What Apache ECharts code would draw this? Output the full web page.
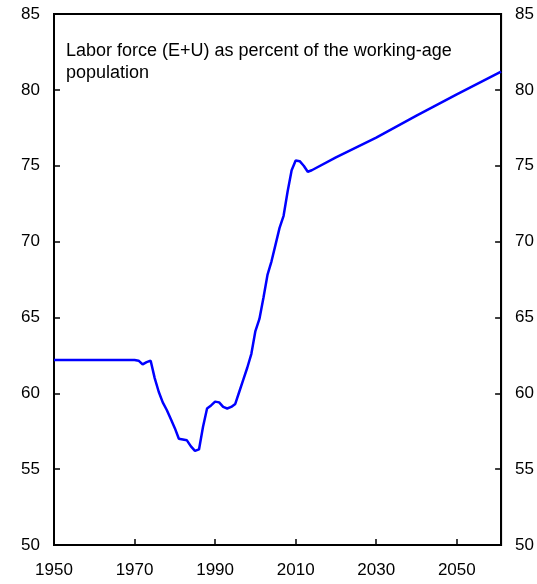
<!DOCTYPE html>
<html>
<head>
<meta charset="utf-8">
<script src="https://cdn.jsdelivr.net/npm/echarts@6/dist/echarts.min.js"></script>
<style>
  html, body { margin: 0; padding: 0; background: #fff; }
  #chart { width: 537px; height: 584px; }
</style>
</head>
<body>
<div id="chart"></div>
<script>
// Labor force participation: history and projection
const years = [
  1950, 1955, 1960, 1965, 1970, 1971, 1972, 1973, 1974, 1975,
  1976, 1977, 1978, 1979, 1980, 1981, 1982, 1983, 1984, 1985,
  1986, 1987, 1988, 1989, 1990, 1991, 1992, 1993, 1994, 1995,
  1996, 1997, 1998, 1999, 2000, 2001, 2002, 2003, 2004, 2005,
  2006, 2007, 2008, 2009, 2010, 2011, 2012, 2013, 2014, 2020,
  2030, 2040, 2050, 2061
];
const laborForcePct = [
  62.2, 62.2, 62.2, 62.2, 62.2, 62.15, 61.9, 62.05, 62.15, 61.0,
  60.1, 59.4, 58.9, 58.3, 57.7, 57.0, 56.95, 56.9, 56.5, 56.2,
  56.3, 57.8, 59.0, 59.2, 59.45, 59.4, 59.1, 59.0, 59.1, 59.3,
  60.1, 60.9, 61.7, 62.6, 64.1, 64.9, 66.3, 67.8, 68.7, 69.8,
  70.9, 71.7, 73.3, 74.7, 75.35, 75.3, 75.0, 74.6, 74.7, 75.55,
  76.85, 78.3, 79.7, 81.2
];
const xTickValues = [1950, 1970, 1990, 2010, 2030, 2050];
const yTickValues = [50, 55, 60, 65, 70, 75, 80, 85];
const noteLines = ['Labor force (E+U) as percent of the working-age', 'population'];

const FONT = 'Liberation Sans, Arial, sans-serif';
const chart = echarts.init(document.getElementById('chart'), null, { renderer: 'canvas' });

const yAxisCommon = {
  type: 'value',
  min: yTickValues[0],
  max: yTickValues[yTickValues.length - 1],
  interval: 5,
  splitLine: { show: false },
  axisLine: { show: true, lineStyle: { color: '#000', width: 2 } },
  axisTick: { show: true, inside: true, length: 6, lineStyle: { color: '#000', width: 1.5 } },
  axisLabel: { color: '#000', fontSize: 17, fontFamily: FONT, margin: 14 }
};

chart.setOption({
  animation: false,
  backgroundColor: '#fff',
  grid: {
    left: 54, right: 29, top: 14, bottom: 39,
    show: true, borderColor: '#000', borderWidth: 2
  },
  xAxis: {
    type: 'value',
    min: xTickValues[0],
    max: 2061,
    interval: 20,
    splitLine: { show: false },
    axisLine: { show: true, lineStyle: { color: '#000', width: 2 } },
    axisTick: { show: true, inside: true, length: 6, lineStyle: { color: '#000', width: 1.5 } },
    axisLabel: {
      color: '#000', fontSize: 17, fontFamily: FONT, margin: 17,
      showMaxLabel: false,
      formatter: v => (xTickValues.indexOf(v) >= 0 ? String(v) : '')
    }
  },
  yAxis: [
    Object.assign({}, yAxisCommon, { position: 'left' }),
    Object.assign({}, yAxisCommon, { position: 'right' })
  ],
  graphic: noteLines.map((t, i) => ({
    type: 'text',
    left: 66,
    top: 42 + i * 22,
    style: { text: t, fill: '#000', fontSize: 18, fontFamily: FONT }
  })),
  series: [{
    type: 'line',
    yAxisIndex: 0,
    data: years.map((y, i) => [y, laborForcePct[i]]),
    showSymbol: false,
    lineStyle: { color: '#0000ff', width: 2.5 },
    itemStyle: { color: '#0000ff' }
  }]
});
</script>
</body>
</html>
